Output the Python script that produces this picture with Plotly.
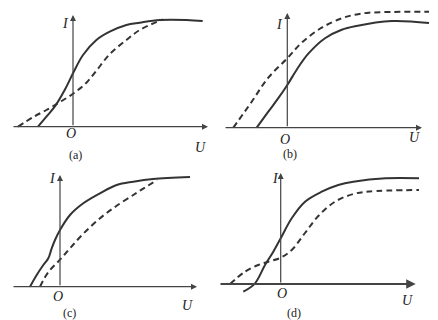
import plotly.graph_objects as go

# ---- data (U, I in arbitrary units; origin O at 0,0) ----
a_solid_U = [-3.5, -2.66, -1.83, -0.83, 0, 1, 2.34, 3.67, 5.34, 6.67, 8.67, 11.37, 12.97]
a_solid_I = [0, 1, 2, 3.67, 5.34, 7.17, 8.67, 9.5, 10.17, 10.4, 10.67, 10.67, 10.57]
a_dash_U = [-5.5, -4, -2.66, -1.33, 0, 1.34, 2.34, 3.67, 5.34, 6.67, 8.97]
a_dash_I = [0, 0.95, 1.67, 2.45, 3.3, 4.4, 5.6, 7.25, 8.67, 9.67, 10.72]

b_solid_U = [-3.06, -1.9, -0.9, 0, 0.94, 2.1, 3.77, 5.44, 6.77, 10.47, 14.17]
b_solid_I = [0, 1.6, 2.95, 4.27, 5.8, 7.4, 8.95, 9.8, 10.15, 10.67, 10.47]
b_dash_U = [-5.4, -3.56, -1.9, 0, 1.44, 3.44, 5.44, 6.77, 8.17, 14.17]
b_dash_I = [0, 2.6, 5.0, 6.94, 8.5, 10.0, 10.94, 11.3, 11.5, 11.6]

c_solid_U = [-3, -2.33, -1.67, -1.17, -0.83, -0.5, 0, 1, 2.33, 4, 5.67, 7.33, 9.3, 13]
c_solid_I = [0, 1.17, 2.17, 2.84, 3.84, 4.67, 5.67, 7.17, 8.34, 9.34, 10.17, 10.5, 10.77, 10.97]
c_dash_U = [-2, -1.17, 0, 1, 2.33, 4, 5.67, 7.33, 8, 9.7]
c_dash_I = [0, 1.45, 2.7, 3.84, 5.3, 6.84, 8.1, 9.17, 9.6, 10.67]

d_solid_U = [-3.74, -2.57, -1.57, -0.74, 0, 1.1, 2.43, 4.1, 5.76, 7.26, 10.5, 13.83]
d_solid_I = [-0.77, 0.07, 1.9, 3.23, 4.57, 6.57, 8.23, 9.23, 9.9, 10.23, 10.57, 10.57]
d_dash_U = [-5.07, -3.57, -2.24, -1.24, 0, 1.1, 2.43, 3.76, 5.43, 7.26, 8.83, 13.83]
d_dash_I = [0, 1.23, 1.9, 2.23, 2.63, 3.4, 5.1, 6.8, 8.23, 9.0, 9.25, 9.4]

panel_labels = ["(a)", "(b)", "(c)", "(d)"]

# ---- layout geometry ----
W, H = 438, 320
SCALE = 10.0  # px per unit
panels = [
    dict(sx=a_solid_U, sy=a_solid_I, dx=a_dash_U, dy=a_dash_I,
         box=(0, 219, 0, 160), o=(73.0, 126.7), ax=(-6.1, 13.5, 11.17), hw=1.2,
         I=(-0.77, 10.37), O=(-0.17, -0.63), U=(12.73, -2.03), L=(0.23, -2.83)),
    dict(sx=b_solid_U, sy=b_solid_I, dx=b_dash_U, dy=b_dash_I,
         box=(219, 438, 0, 160), o=(287.3, 127.7), ax=(-6.33, 13.47, 11.47), hw=1.2,
         I=(-0.83, 10.37), O=(-0.26, -1.13), U=(12.67, -0.93), L=(0.27, -2.63)),
    dict(sx=c_solid_U, sy=c_solid_I, dx=c_dash_U, dy=c_dash_I,
         box=(0, 219, 160, 320), o=(60, 286.7), ax=(-4.8, 13.7, 11.17), hw=1.2,
         I=(-0.8, 10.87), O=(-0.2, -0.93), U=(12.7, -1.83), L=(0.9, -2.63)),
    dict(sx=d_solid_U, sy=d_solid_I, dx=d_dash_U, dy=d_dash_I,
         box=(219, 438, 160, 320), o=(280.7, 284), ax=(-6.17, 13.5, 11.1), hw=1.9,
         I=(-0.57, 10.6), O=(0.13, -0.9), U=(12.63, -1.6), L=(1.33, -2.9)),
]

fig = go.Figure()
annotations = []
layout_axes = {}
LINE = "#333333"
AXC = "#444444"
SERIF = "Liberation Serif"

for k, p in enumerate(panels):
    n = "" if k == 0 else str(k + 1)
    xa, ya = "x" + n, "y" + n
    x0, x1, y0, y1 = p["box"]
    ox, oy = p["o"]
    layout_axes["xaxis" + n] = dict(
        domain=[x0 / W, x1 / W], range=[(x0 - ox) / SCALE, (x1 - ox) / SCALE],
        visible=False, anchor=ya, fixedrange=True)
    layout_axes["yaxis" + n] = dict(
        domain=[1 - y1 / H, 1 - y0 / H], range=[(oy - y1) / SCALE, (oy - y0) / SCALE],
        visible=False, anchor=xa, fixedrange=True)

    fig.add_trace(go.Scatter(x=p["sx"], y=p["sy"], mode="lines", xaxis=xa, yaxis=ya,
                             line=dict(color=LINE, width=2, shape="spline", smoothing=1.0),
                             showlegend=False, hoverinfo="skip"))
    fig.add_trace(go.Scatter(x=p["dx"], y=p["dy"], mode="lines", xaxis=xa, yaxis=ya,
                             line=dict(color=LINE, width=2, dash="6px,4px", shape="spline", smoothing=1.0),
                             showlegend=False, hoverinfo="skip"))

    umin, umax, itop = p["ax"]
    annotations.append(dict(x=umax, y=0, ax=umin, ay=0, xref=xa, yref=ya, axref=xa, ayref=ya,
                            text="", showarrow=True, arrowhead=2, arrowsize=1, arrowwidth=p["hw"],
                            arrowcolor=AXC))
    annotations.append(dict(x=0, y=itop, ax=0, ay=0, xref=xa, yref=ya, axref=xa, ayref=ya,
                            text="", showarrow=True, arrowhead=2, arrowsize=1, arrowwidth=1.2,
                            arrowcolor=AXC))
    for key in ("I", "O", "U"):
        annotations.append(dict(x=p[key][0], y=p[key][1], xref=xa, yref=ya, showarrow=False,
                                text="<i>%s</i>" % key,
                                font=dict(family=SERIF, size=14, color="#222222")))
    annotations.append(dict(x=p["L"][0], y=p["L"][1], xref=xa, yref=ya, showarrow=False,
                            text=panel_labels[k],
                            font=dict(family=SERIF, size=12, color="#222222")))

fig.update_layout(width=W, height=H, margin=dict(l=0, r=0, t=0, b=0),
                  paper_bgcolor="white", plot_bgcolor="white",
                  annotations=annotations, **layout_axes)

fig.write_html("out.html", config={"displayModeBar": False})
